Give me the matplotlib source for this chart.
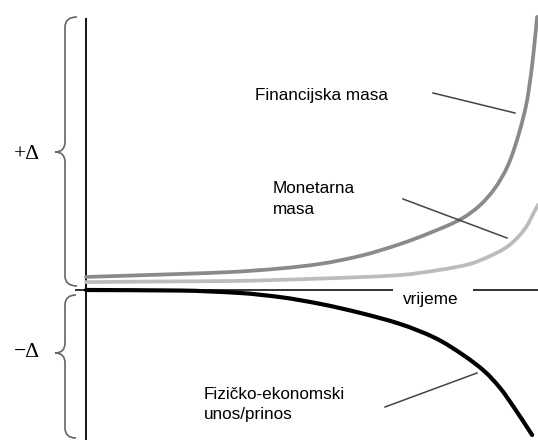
import matplotlib
matplotlib.use("Agg")
import matplotlib.pyplot as plt
from matplotlib.path import Path
from matplotlib.patches import PathPatch

# ---- data (time units, delta units) ----
fin_t = [0, 0.97, 2.08, 3.19, 4.29, 5.18, 6.06, 6.95, 7.61, 8.34, 8.72, 9.05, 9.34, 9.60, 9.76, 9.87, 9.93, 9.98]
fin_y = [0.48, 0.53, 0.59, 0.66, 0.79, 0.96, 1.25, 1.69, 2.10, 2.65, 3.12, 3.75, 4.60, 5.88, 6.99, 8.27, 9.19, 10.04]

mon_t = [0, 1.42, 3.19, 5.18, 6.95, 7.83, 8.50, 8.94, 9.31, 9.60, 9.78, 9.89, 10.0]
mon_y = [0.29, 0.31, 0.33, 0.42, 0.55, 0.74, 0.96, 1.25, 1.58, 2.02, 2.43, 2.79, 3.13]

fiz_t = [0, 2.08, 3.41, 4.29, 5.18, 6.06, 6.95, 7.72, 8.38, 8.83, 9.16, 9.49, 9.87]
fiz_y = [0, -0.02, -0.11, -0.26, -0.51, -0.84, -1.25, -1.76, -2.43, -3.01, -3.60, -4.37, -5.33]

labels = ["Financijska masa", "Monetarna\nmasa", "Fizičko-ekonomski\nunos/prinos"]
axis_label = "vrijeme"
delta_labels = ["+Δ", "−Δ"]

# ---- layout helpers (pixel -> data) ----
W, H = 538, 445
X0, XS = 86, 45.2
Y0, YS = 290, 27.2


def px(x, y):
    return ((x - X0) / XS, (Y0 - y) / YS)


fig = plt.figure(figsize=(W / 100, H / 100), dpi=100)
ax = fig.add_axes([0, 0, 1, 1])
ax.set_xlim(-X0 / XS, (W - X0) / XS)
ax.set_ylim((Y0 - H) / YS, Y0 / YS)
ax.axis("off")


def smooth_path(xs, ys):
    """Monotone (Fritsch-Carlson) cubic through the read points, as Bezier path."""
    n = len(xs)
    h = [xs[i + 1] - xs[i] for i in range(n - 1)]
    d = [(ys[i + 1] - ys[i]) / h[i] for i in range(n - 1)]
    m = [0.0] * n
    m[0], m[-1] = d[0], d[-1]
    for i in range(1, n - 1):
        if d[i - 1] * d[i] <= 0:
            m[i] = 0.0
        else:
            w1 = 2 * h[i] + h[i - 1]
            w2 = h[i] + 2 * h[i - 1]
            m[i] = (w1 + w2) / (w1 / d[i - 1] + w2 / d[i])
    verts = [(xs[0], ys[0])]
    codes = [Path.MOVETO]
    for i in range(n - 1):
        c1 = (xs[i] + h[i] / 3, ys[i] + m[i] * h[i] / 3)
        c2 = (xs[i + 1] - h[i] / 3, ys[i + 1] - m[i + 1] * h[i] / 3)
        verts += [c1, c2, (xs[i + 1], ys[i + 1])]
        codes += [Path.CURVE4] * 3
    return Path(verts, codes)


# axes lines
vx0, vy0 = px(86, 18)
vx1, vy1 = px(86, 440)
ax.plot([vx0, vx1], [vy0, vy1], color="black", lw=1.3, zorder=3, solid_capstyle="butt")
g0 = px(393, 0)[0]
g1 = px(473, 0)[0]
xl = px(75, 0)[0]
ax.plot([xl, g0], [0, 0], color="#222222", lw=1.3, zorder=3, solid_capstyle="butt")
ax.plot([g1, (W - X0) / XS], [0, 0], color="#222222", lw=1.3, zorder=3, solid_capstyle="butt")

# curves
for xs, ys, col, lw, z in [(mon_t, mon_y, "#bcbcbc", 2.7, 4),
                           (fin_t, fin_y, "#8a8a8a", 2.7, 4),
                           (fiz_t, fiz_y, "black", 3.0, 5)]:
    ax.add_patch(PathPatch(smooth_path(xs, ys), fill=False, edgecolor=col, lw=lw,
                           zorder=z, capstyle="round", joinstyle="round"))

# pointer lines
for (a, b) in [((433, 93), (515, 113)), ((403, 199), (507, 238)), ((385, 407), (477, 373))]:
    p, q = px(*a), px(*b)
    ax.plot([p[0], q[0]], [p[1], q[1]], color="#444444", lw=1.1, zorder=6)

# text
sans = dict(family=["Liberation Sans", "DejaVu Sans"], fontsize=12.3, color="black", va="baseline", ha="left")
x, y = px(255, 100)
ax.text(x, y, labels[0], **sans)
ml = labels[1].split("\n")
x, y = px(273, 193)
ax.text(x, y, ml[0], **sans)
x, y = px(273, 214)
ax.text(x, y, ml[1], **sans)
fl = labels[2].split("\n")
x, y = px(204, 399)
ax.text(x, y, fl[0], **sans)
x, y = px(204, 419)
ax.text(x, y, fl[1], **sans)
x, y = px(403, 304)
ax.text(x, y, axis_label, **sans)

serif = dict(family=["Liberation Serif", "DejaVu Serif"], fontsize=15.5, color="black", va="baseline", ha="left")
x, y = px(14, 159)
ax.text(x, y, delta_labels[0], **serif)
x, y = px(14, 357)
ax.text(x, y, delta_labels[1], **serif)


# braces
def brace(x_end, x_stem, x_tip, y_top, y_mid, y_bot, r=10):
    pts = [
        (x_end, y_top), (x_stem, y_top), (x_stem, y_top + r),
        (x_stem, y_mid - r),
        (x_stem, y_mid), (x_tip, y_mid),
        (x_stem, y_mid), (x_stem, y_mid + r),
        (x_stem, y_bot - r),
        (x_stem, y_bot), (x_end, y_bot),
    ]
    codes = [Path.MOVETO, Path.CURVE3, Path.CURVE3, Path.LINETO,
             Path.CURVE3, Path.CURVE3, Path.CURVE3, Path.CURVE3,
             Path.LINETO, Path.CURVE3, Path.CURVE3]
    verts = [px(a, b) for a, b in pts]
    ax.add_patch(PathPatch(Path(verts, codes), fill=False, edgecolor="#666666", lw=1.2, zorder=2))


brace(77, 65, 55, 17, 152, 286)
brace(76, 65, 55, 295, 353, 438)

fig.savefig("out.png", dpi=100)
